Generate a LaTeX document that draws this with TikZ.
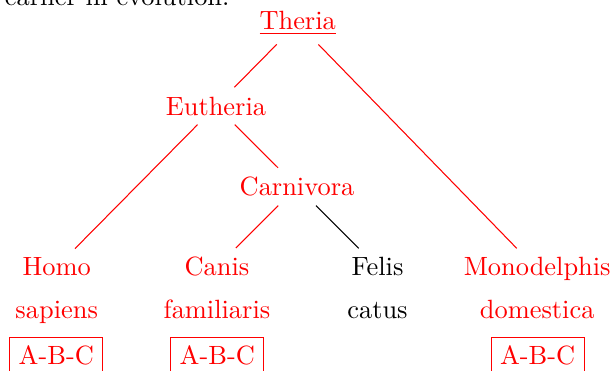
\documentclass[tikz,border=0pt]{standalone}
\begin{document}
\begin{tikzpicture}[x=0.3788pt, y=-0.3788pt,
  taxon/.style={text=red, anchor=base},
  plain/.style={text=black, anchor=base},
  genes/.style={draw=red, text=red, anchor=base, line width=0.4pt},
  branch/.style={draw=red, line width=0.4pt},
  blackbranch/.style={draw=black, line width=0.4pt}]
  \useasboundingbox (0,0) rectangle (613,371);

  % tail of the preceding sentence
  \node[anchor=base east, inner sep=0pt] (caption) at (230,5) {earlier in evolution.};

  % inner nodes of the tree
  \node[taxon] (theria) at (297.7,29.5) {\underline{Theria}};
  \node[taxon] (eutheria) at (216,115) {Eutheria};
  \node[taxon] (carnivora) at (297,195.7) {Carnivora};

  % leaves: genus, species, gene order
  \node[taxon] (homo) at (56.7,276) {Homo};
  \node[taxon] (sapiens) at (56.7,319) {sapiens};
  \node[genes] (homobox) at (56.3,365) {A-B-C};

  \node[taxon] (canis) at (217,276) {Canis};
  \node[taxon] (familiaris) at (217,319) {familiaris};
  \node[genes] (canisbox) at (217.3,365) {A-B-C};

  \node[plain] (felis) at (377.5,276) {Felis};
  \node[plain] (catus) at (377.5,319) {catus};

  \node[taxon] (monodelphis) at (537.2,276) {Monodelphis};
  \node[taxon] (domestica) at (537.2,319) {domestica};
  \node[genes] (monobox) at (537.7,365) {A-B-C};

  % branches
  \draw[branch] (theria) -- (eutheria);
  \draw[branch] (theria) -- (monodelphis);
  \draw[branch] (eutheria) -- (homo);
  \draw[branch] (eutheria) -- (carnivora);
  \draw[branch] (carnivora) -- (canis);
  \draw[blackbranch] (carnivora) -- (felis);
\end{tikzpicture}
\end{document}
